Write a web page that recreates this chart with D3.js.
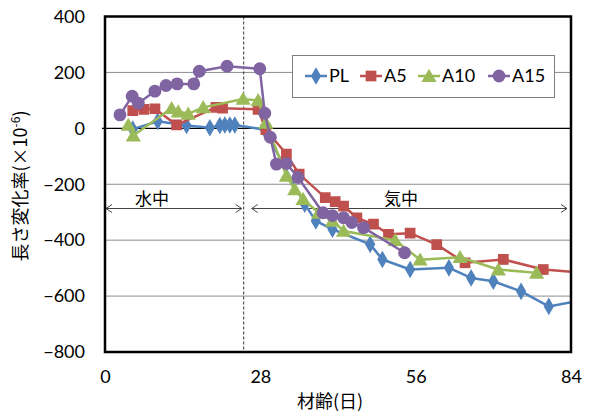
<!DOCTYPE html>
<html>
<head>
<meta charset="utf-8">
<script src="https://cdn.jsdelivr.net/npm/d3@7"></script>
<style>
  html, body { margin: 0; padding: 0; background: #fff; }
  svg { display: block; }
</style>
</head>
<body>
<svg id="chart" width="591" height="416"></svg>
<script>
// Length change (×10^-6) against age in days, four mixes.
const xTicks = [0, 28, 56, 84];
const yTicks = [400, 200, 0, -200, -400, -600, -800];

const plDays  = [5, 9.5, 14.7, 18.9, 20.7, 21.6, 22.5, 23.4, 28.8, 36, 38, 41, 47.8, 50, 55, 62, 66, 70, 75, 80, 91];
const plVals  = [-3, 25, 10, 2, 10, 12, 12, 12, -5, -271, -331, -361, -415, -469, -505, -499, -535, -547, -583, -637, -596];

const a5Days  = [5, 7, 9, 12.9, 20, 21.2, 27.6, 29, 32.7, 35, 39.7, 41.5, 43, 45.4, 48.4, 51.1, 55, 59.8, 64.9, 71.8, 79, 91];
const a5Vals  = [63, 68, 70, 12, 75, 72, 68, -5, -92, -164, -248, -262, -278, -320, -343, -379, -375, -416, -481, -469, -505, -524];

const a10Days = [4.2, 5.1, 12, 13.2, 15, 17.7, 24.9, 27.6, 29, 32.7, 34.2, 35.7, 38.5, 41, 43, 52.3, 56.8, 64, 70.9, 77.8];
const a10Vals = [12, -26, 72, 60, 52, 75, 105, 100, 20, -170, -218, -253, -302, -331, -367, -400, -470, -461, -505, -517];

const a15Days = [2.7, 4.9, 6, 9, 11, 13, 16, 17, 22, 27.9, 28.8, 29.8, 30.9, 32.7, 34.8, 39.3, 41, 43, 44.5, 46.6, 54];
const a15Vals = [48, 115, 90, 133, 153, 159, 159, 204, 222, 213, 54, -32, -128, -126, -176, -302, -312, -320, -337, -355, -445];

const seriesNames = ["PL", "A5", "A10", "A15"];
const waterEnd = 25;   // end of water curing (days)

const svg = d3.select("#chart");
const plotLeft = 105, plotRight = 571, plotTop = 16.5, plotBottom = 352;

const x = d3.scaleLinear().domain([0, 84]).range([plotLeft, plotRight]);
const y = d3.scaleLinear().domain([-800, 400]).range([plotBottom, plotTop]);

const series = [
  { name: seriesNames[0], days: plDays,  vals: plVals,  color: "#4F81BD", symbol: d3.symbolDiamond,  size: 90 },
  { name: seriesNames[1], days: a5Days,  vals: a5Vals,  color: "#C0504D", symbol: d3.symbolSquare,   size: 115 },
  { name: seriesNames[2], days: a10Days, vals: a10Vals, color: "#9BBB59", symbol: d3.symbolTriangle, size: 100 },
  { name: seriesNames[3], days: a15Days, vals: a15Vals, color: "#8064A2", symbol: d3.symbolCircle,   size: 130 }
];

const font = "Lato, 'Liberation Sans', sans-serif";
const cjk = "'Noto Sans CJK JP', sans-serif";

svg.append("defs").append("clipPath").attr("id", "plotclip")
  .append("rect").attr("x", plotLeft).attr("y", plotTop)
  .attr("width", plotRight - plotLeft).attr("height", plotBottom - plotTop);

// horizontal gridlines
svg.append("g").selectAll("line")
  .data(yTicks.filter(v => v !== 400 && v !== -800 && v !== 0))
  .join("line")
  .attr("x1", plotLeft).attr("x2", plotRight)
  .attr("y1", d => y(d)).attr("y2", d => y(d))
  .attr("stroke", "#8c8c8c").attr("stroke-width", 1);

// zero line
svg.append("line")
  .attr("x1", plotLeft - 3).attr("x2", plotRight)
  .attr("y1", y(0)).attr("y2", y(0))
  .attr("stroke", "#000").attr("stroke-width", 1.3);

// water / air curing boundary
svg.append("line")
  .attr("x1", x(waterEnd)).attr("x2", x(waterEnd))
  .attr("y1", plotTop).attr("y2", plotBottom)
  .attr("stroke", "#333").attr("stroke-width", 1)
  .attr("stroke-dasharray", "3,2");

// period arrows
function arrow(x1, x2, yy) {
  const g = svg.append("g").attr("stroke", "#444").attr("stroke-width", 1).attr("fill", "none");
  g.append("line").attr("x1", x1).attr("x2", x2).attr("y1", yy).attr("y2", yy);
  g.append("path").attr("d", `M${x1 + 6},${yy - 4} L${x1},${yy} L${x1 + 6},${yy + 4}`);
  g.append("path").attr("d", `M${x2 - 6},${yy - 4} L${x2},${yy} L${x2 - 6},${yy + 4}`);
}
const arrowY = 208.5;
arrow(x(0) + 1, x(waterEnd) - 2, arrowY);
arrow(x(waterEnd) + 8, x(84) - 4, arrowY);

svg.append("text").attr("x", 152).attr("y", 205).attr("text-anchor", "middle")
  .attr("font-family", cjk).attr("font-size", 17).attr("fill", "#000").text("水中");
svg.append("text").attr("x", 401).attr("y", 205).attr("text-anchor", "middle")
  .attr("font-family", cjk).attr("font-size", 17).attr("fill", "#000").text("気中");

// data series
const plot = svg.append("g").attr("clip-path", "url(#plotclip)");
const line = d3.line().x(d => x(d[0])).y(d => y(d[1]));

series.forEach(s => {
  const pts = s.days.map((d, i) => [d, s.vals[i]]);
  const g = plot.append("g");
  g.append("path").datum(pts).attr("d", line)
    .attr("fill", "none").attr("stroke", s.color).attr("stroke-width", 2.5)
    .attr("stroke-linejoin", "round");
  g.selectAll("path.m").data(pts.filter(p => p[0] <= 84)).join("path").attr("class", "m")
    .attr("transform", p => `translate(${x(p[0])},${y(p[1]) + (s.symbol === d3.symbolTriangle ? 1.5 : 0)})`)
    .attr("d", d3.symbol().type(s.symbol).size(s.size))
    .attr("fill", s.color);
});

// plot frame
svg.append("rect").attr("x", plotLeft).attr("y", plotTop)
  .attr("width", plotRight - plotLeft).attr("height", plotBottom - plotTop)
  .attr("fill", "none").attr("stroke", "#000").attr("stroke-width", 2.5);

// axes (labels only)
const xAxis = svg.append("g").attr("transform", `translate(0,${plotBottom})`)
  .call(d3.axisBottom(x).tickValues(xTicks).tickSize(0).tickPadding(18).tickFormat(d3.format("d")));
const yAxis = svg.append("g").attr("transform", `translate(${plotLeft},0)`)
  .call(d3.axisLeft(y).tickValues(yTicks).tickSize(0).tickPadding(20).tickFormat(d3.format("d")));
[xAxis, yAxis].forEach(a => {
  a.select(".domain").remove();
  a.selectAll("text").attr("font-family", font).attr("font-size", 18).attr("fill", "#000");
});

// axis titles
svg.append("text").attr("x", 330).attr("y", 408).attr("text-anchor", "middle")
  .attr("font-family", cjk).attr("font-size", 18).attr("fill", "#000").text("材齢(日)");

const yt = svg.append("text").attr("transform", "translate(27,186) rotate(-90)")
  .attr("text-anchor", "middle").attr("font-family", cjk).attr("font-size", 18).attr("fill", "#000");
yt.append("tspan").text("長さ変化率(×10");
yt.append("tspan").attr("font-size", 12).attr("dy", -7).text("-6");
yt.append("tspan").attr("dy", 7).text(")");

// legend
const lg = svg.append("g");
lg.append("rect").attr("x", 292.5).attr("y", 55.5).attr("width", 262).attr("height", 42)
  .attr("fill", "#fff").attr("stroke", "#7f7f7f").attr("stroke-width", 1);
const legendX = [305, 360, 418, 488];
series.forEach((s, i) => {
  const lx = legendX[i], ly = 76;
  lg.append("line").attr("x1", lx).attr("x2", lx + 22).attr("y1", ly).attr("y2", ly)
    .attr("stroke", s.color).attr("stroke-width", 2.5);
  lg.append("path").attr("transform", `translate(${lx + 11},${ly + (s.symbol === d3.symbolTriangle ? 1.5 : 0)})`)
    .attr("d", d3.symbol().type(s.symbol).size(s.size)).attr("fill", s.color);
  lg.append("text").attr("x", lx + 24).attr("y", ly).attr("dy", "0.35em")
    .attr("font-family", font).attr("font-size", 18).attr("fill", "#000").text(s.name);
});
</script>
</body>
</html>
